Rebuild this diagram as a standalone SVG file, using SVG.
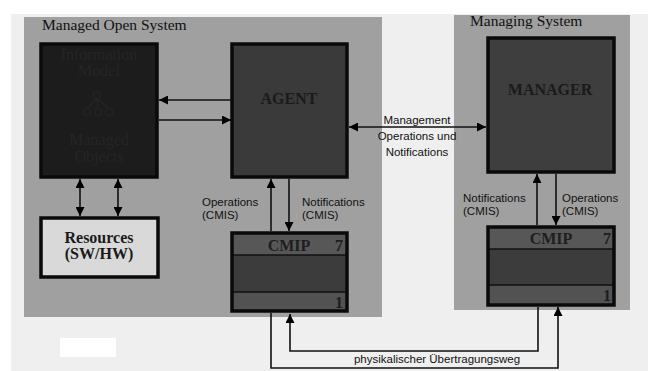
<svg xmlns="http://www.w3.org/2000/svg" width="648" height="371" viewBox="0 0 648 371">
<defs>
<marker id="ah" viewBox="0 0 10 10" refX="10" refY="5" markerWidth="9" markerHeight="9" markerUnits="userSpaceOnUse" orient="auto-start-reverse">
<path d="M0,0 L10,5 L0,10 z" fill="#000"/>
</marker>
<style>
.sys{fill:#a0a0a0}
.ttl{font-family:"Liberation Serif",serif;font-size:15.5px;fill:#111}
.box{stroke:#0a0a0a;stroke-width:3.5}
.big{font-family:"Liberation Serif",serif;font-weight:bold;font-size:16px;fill:#1a1a1a;text-anchor:middle}
.lbl{font-family:"Liberation Sans",Arial,sans-serif;font-size:11.5px;fill:#111}
.ln{fill:none;stroke:#111;stroke-width:1.6}
.cm{font-family:"Liberation Serif",serif;font-weight:bold;font-size:16px;fill:#1e1e1e}
.faint{font-family:"Liberation Serif",serif;font-size:16px;fill:#252525;text-anchor:middle}
</style>
</defs>
<rect x="0" y="0" width="648" height="371" fill="#ffffff"/>
<rect x="11" y="14" width="637" height="357" fill="#efefef"/>

<g id="managed-open-system">
<rect class="sys" x="24" y="17" width="358" height="300"/>
<text class="ttl" x="42" y="30">Managed Open System</text>
</g>
<g id="managing-system">
<rect class="sys" x="454" y="15" width="176" height="295" fill="#9c9c9c"/>
<text class="ttl" x="470" y="26">Managing System</text>
</g>

<g id="information-model">
<rect class="box" x="41" y="44" width="116" height="133" fill="#1c1c1c" stroke="#121212"/>
<text class="faint" x="99" y="60">Information</text>
<text class="faint" x="99" y="76">Model</text>
<g fill="none" stroke="#262626" stroke-width="1.2">
<circle cx="97" cy="95" r="3.5"/>
<circle cx="87" cy="112" r="3.5"/>
<circle cx="98" cy="112" r="3.5"/>
<circle cx="109" cy="112" r="3.5"/>
<path d="M97,98.5 L87,108.5 M97,98.5 L98,108.5 M97,98.5 L109,108.5"/>
</g>
<text class="faint" x="99" y="145">Managed</text>
<text class="faint" x="99" y="162">Objects</text>
</g>

<g id="agent">
<rect class="box" x="232" y="44" width="115" height="133" fill="#3a3a3a"/>
<text class="big" x="289" y="104">AGENT</text>
</g>

<g id="manager">
<rect class="box" x="488" y="38" width="126" height="134" fill="#3e3e3e"/>
<text class="big" x="550" y="95">MANAGER</text>
</g>

<g id="resources">
<rect class="box" x="41" y="218" width="117" height="59" fill="#d9d9d9"/>
<text class="big" x="99" y="243">Resources</text>
<text class="big" x="99" y="259">(SW/HW)</text>
</g>

<g id="cmip-agent">
<rect x="232" y="233" width="115" height="22" fill="#575757"/>
<rect x="232" y="255" width="115" height="37" fill="#3c3c3c"/>
<rect x="232" y="292" width="115" height="19" fill="#525252"/>
<line x1="232" y1="255" x2="347" y2="255" stroke="#111" stroke-width="1.5"/>
<line x1="232" y1="292" x2="347" y2="292" stroke="#111" stroke-width="1.5"/>
<rect class="box" x="232" y="233" width="115" height="78" fill="none"/>
<text class="cm" x="289" y="251" text-anchor="middle">CMIP</text>
<text class="cm" x="343" y="251" text-anchor="end" font-weight="normal">7</text>
<text class="cm" x="343" y="308" text-anchor="end" font-weight="normal">1</text>
</g>

<g id="cmip-manager">
<rect x="488" y="227" width="126" height="22" fill="#575757"/>
<rect x="488" y="249" width="126" height="36" fill="#3c3c3c"/>
<rect x="488" y="285" width="126" height="20" fill="#525252"/>
<line x1="488" y1="249" x2="614" y2="249" stroke="#111" stroke-width="1.5"/>
<line x1="488" y1="285" x2="614" y2="285" stroke="#111" stroke-width="1.5"/>
<rect class="box" x="488" y="227" width="126" height="78" fill="none"/>
<text class="cm" x="551" y="244" text-anchor="middle">CMIP</text>
<text class="cm" x="611" y="244" text-anchor="end" font-weight="normal">7</text>
<text class="cm" x="611" y="301" text-anchor="end" font-weight="normal">1</text>
</g>

<g id="connectors">
<line class="ln" x1="232" y1="100" x2="159" y2="100" marker-end="url(#ah)"/>
<line class="ln" x1="159" y1="120" x2="231" y2="120" marker-end="url(#ah)"/>
<line class="ln" x1="349" y1="127" x2="486" y2="127" marker-start="url(#ah)" marker-end="url(#ah)"/>
<line class="ln" x1="80" y1="179" x2="80" y2="216" marker-start="url(#ah)" marker-end="url(#ah)"/>
<line class="ln" x1="118" y1="179" x2="118" y2="216" marker-start="url(#ah)" marker-end="url(#ah)"/>
<line class="ln" x1="271" y1="231" x2="271" y2="179" marker-end="url(#ah)"/>
<line class="ln" x1="289" y1="179" x2="289" y2="231" marker-end="url(#ah)"/>
<line class="ln" x1="537" y1="225" x2="537" y2="174" marker-end="url(#ah)"/>
<line class="ln" x1="556" y1="174" x2="556" y2="225" marker-end="url(#ah)"/>
<path class="ln" d="M271,313 V368 H558 V307" marker-end="url(#ah)"/>
<path class="ln" d="M538,307 V351 H290 V314" marker-end="url(#ah)"/>
</g>

<g id="labels">
<text class="lbl" x="417" y="124" text-anchor="middle">Management</text>
<text class="lbl" x="417" y="140" text-anchor="middle">Operations und</text>
<text class="lbl" x="417" y="156" text-anchor="middle">Notifications</text>
<text class="lbl" x="202" y="206">Operations</text>
<text class="lbl" x="202" y="219">(CMIS)</text>
<text class="lbl" x="302" y="206">Notifications</text>
<text class="lbl" x="302" y="219">(CMIS)</text>
<text class="lbl" x="463" y="202">Notifications</text>
<text class="lbl" x="463" y="215">(CMIS)</text>
<text class="lbl" x="562" y="202">Operations</text>
<text class="lbl" x="562" y="215">(CMIS)</text>
<text class="lbl" x="437" y="363" text-anchor="middle">physikalischer Übertragungsweg</text>
</g>

<rect x="60" y="338" width="56" height="19" fill="#ffffff"/>
</svg>
